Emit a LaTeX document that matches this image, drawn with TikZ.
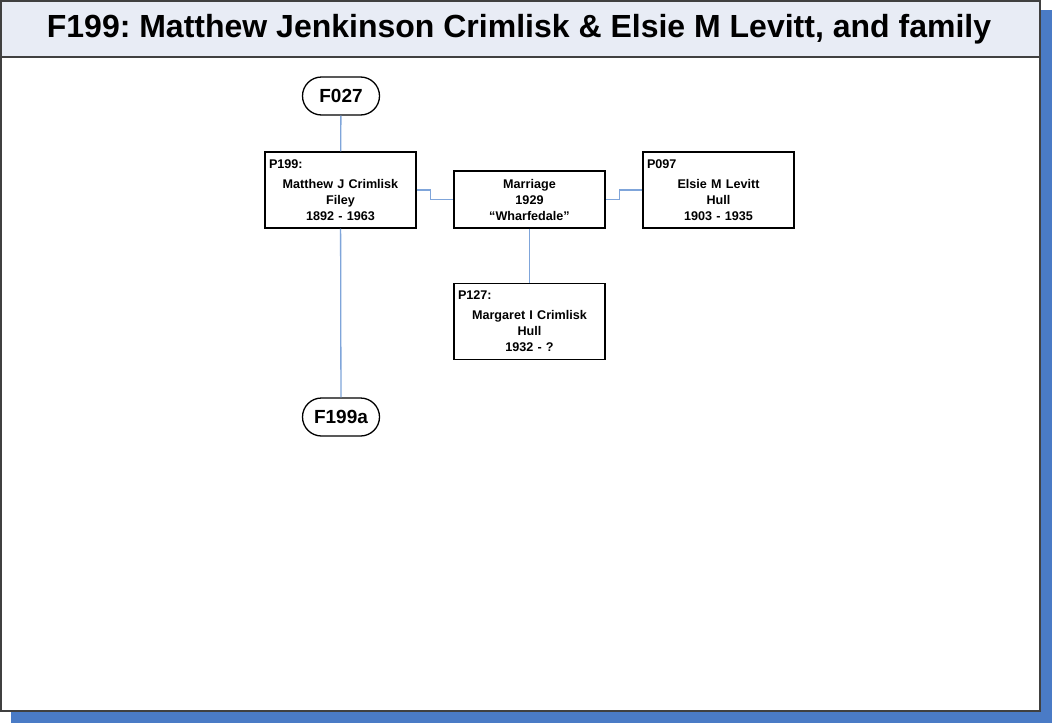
\documentclass[tikz,border=0pt]{standalone}
\usepackage{fontspec}
\setmainfont{Liberation Sans}
\usepackage{tikz}
\usetikzlibrary{calc}
\definecolor{shadowblue}{HTML}{4A7BC6}
\definecolor{titleband}{HTML}{E8ECF5}
\definecolor{linkblue}{HTML}{7FA5DA}
\frenchspacing
\begin{document}
\begin{tikzpicture}[x=1pt, y=-1pt,
  person/.style={draw, line width=1.3pt, minimum width=151pt, minimum height=76pt, text width=143pt, align=center, font=\bfseries\fontsize{12.6}{16}\selectfont, inner sep=4pt},
  union/.style={draw, line width=1.3pt, minimum width=151pt, minimum height=57pt, text width=143pt, align=center, font=\bfseries\fontsize{12.6}{16}\selectfont},
  famref/.style={draw, line width=1.3pt, rounded corners=19pt, minimum width=77pt, minimum height=38pt, font=\bfseries\fontsize{19}{22}\selectfont},
  link/.style={draw=linkblue, line width=1.3pt}]
\useasboundingbox (0,0) rectangle (1052,723);
\fill[shadowblue] (11,10) rectangle (1052,723);
\draw[fill=white, draw=black!75, line width=1.5pt] (1,1) rectangle (1040,711);
\draw[fill=titleband, draw=black!75, line width=1.5pt] (1,1) rectangle (1040,57);
\path (519,29) node[font=\bfseries\fontsize{32}{35}\selectfont]{F199: Matthew Jenkinson Crimlisk \& Elsie M Levitt, and family};
\node[famref] (f027) at (341,96) {F027};
\node[famref] (f199a) at (341,417) {F199a};
\node[person] (p199) at (340.5,190) {\makebox[143pt][l]{P199:}\\[4pt]Matthew J Crimlisk\\Filey\\1892 - 1963};
\node[union] (marr) at (529.5,199.5) {Marriage\\1929\\``Wharfedale''};
\node[person] (p097) at (718.5,190) {\makebox[143pt][l]{P097}\\[4pt]Elsie M Levitt\\Hull\\1903 - 1935};
\node[person] (p127) at (529.5,321.5) {\makebox[143pt][l]{P127:}\\[4pt]Margaret I Crimlisk\\Hull\\1932 - ?};
\draw[link] (f027) -- (p199);
\draw[link] (p199) -- (f199a);
\draw[link] (marr) -- (p127);
\draw[link] (p199.east) -- ++(14,0) |- (marr.west);
\draw[link] (p097.west) -- ++(-23,0) |- (marr.east);
\end{tikzpicture}
\end{document}
